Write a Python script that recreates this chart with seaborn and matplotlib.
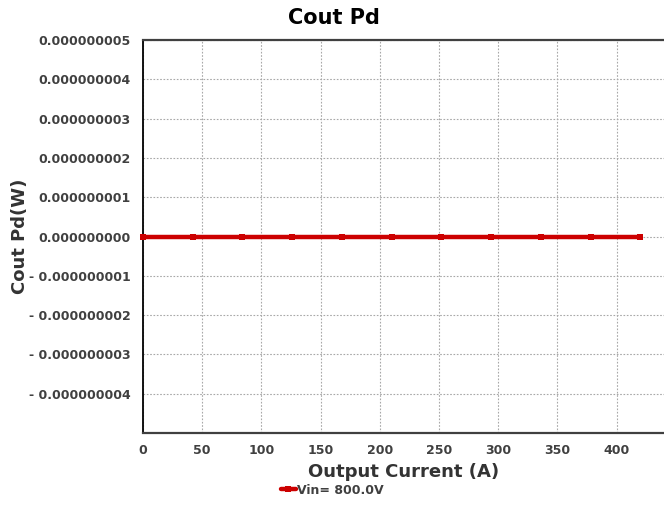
import matplotlib
matplotlib.use("Agg")
import matplotlib.pyplot as plt
from matplotlib.ticker import FuncFormatter
import pandas as pd
import seaborn as sns

# Output current sweep (A) and capacitor power dissipation (W)
output_current = [0, 42, 84, 126, 168, 210, 252, 294, 336, 378, 420]
cout_pd = [0.0, 0.0, 0.0, 0.0, 0.0, 0.0, 0.0, 0.0, 0.0, 0.0, 0.0]
series_name = "Vin= 800.0V"

x_ticks = [0, 50, 100, 150, 200, 250, 300, 350, 400]
y_ticks = [-4e-9, -3e-9, -2e-9, -1e-9, 0.0, 1e-9, 2e-9, 3e-9, 4e-9, 5e-9]

df = pd.DataFrame({"Output Current (A)": output_current,
                   "Cout Pd(W)": cout_pd,
                   "series": series_name})

sns.set_style("white")
plt.rcParams["font.family"] = ["DejaVu Sans"]
plt.rcParams["font.weight"] = "bold"

fig = plt.figure(figsize=(6.64, 5.14), dpi=100)
ax = fig.add_axes([143 / 664, 1 - 433 / 514, 1 - 143 / 664, (433 - 40) / 514])

red = "#CC0000"
sns.lineplot(data=df, x="Output Current (A)", y="Cout Pd(W)", hue="series",
             palette=[red], marker="s", markersize=5, markeredgewidth=0,
             linewidth=3.2, ax=ax, legend=False, clip_on=False, zorder=5)

ax.set_xlim(0, 440)
ax.set_ylim(-5e-9, 5e-9)
ax.set_xticks(x_ticks)
ax.set_yticks(y_ticks)


def y_fmt(v, pos):
    # Fixed nine-decimal labels; negatives use a spaced minus sign
    if abs(v) < 1e-15:
        v = 0.0
    if v >= 0:
        return f"{v:.9f}"
    return "- " + f"{-v:.9f}"


ax.yaxis.set_major_formatter(FuncFormatter(y_fmt))
ax.yaxis.offsetText.set_visible(False)
ax.xaxis.offsetText.set_visible(False)

tick_color = "#404040"
ax.tick_params(axis="both", length=0, labelsize=9, colors=tick_color)
ax.tick_params(axis="y", pad=9)
ax.tick_params(axis="x", pad=8)
for lab in ax.get_xticklabels() + ax.get_yticklabels():
    lab.set_fontweight("bold")

ax.grid(True, color="#a8a8a8", linestyle=(0, (1.5, 1.5)), linewidth=0.8)

ax.spines["left"].set_color("black")
ax.spines["left"].set_linewidth(1.3)
for side in ["top", "bottom"]:
    ax.spines[side].set_color("#404040")
    ax.spines[side].set_linewidth(1.6)
ax.spines["right"].set_visible(False)

fig.text(334 / 664, 1 - 18.5 / 514, "Cout Pd", fontsize=15, fontweight="bold",
         color="black", ha="center", va="center")
ax.set_xlabel("Output Current (A)", fontsize=13, fontweight="bold",
              color="#333333", labelpad=4)
ax.set_ylabel("Cout Pd(W)", fontsize=13, fontweight="bold",
              color="#333333", labelpad=0)

handle = plt.Line2D([], [], color=red, linewidth=3.2, marker="s",
                    markersize=5, markeredgewidth=0)
fig.legend([handle], [series_name], loc="center", bbox_to_anchor=(0.5, 1 - 490 / 514),
           frameon=False, handlelength=1.2, handletextpad=0.1,
           prop={"size": 9, "weight": "bold"}, labelcolor=tick_color)

fig.savefig("out.png", dpi=100)
